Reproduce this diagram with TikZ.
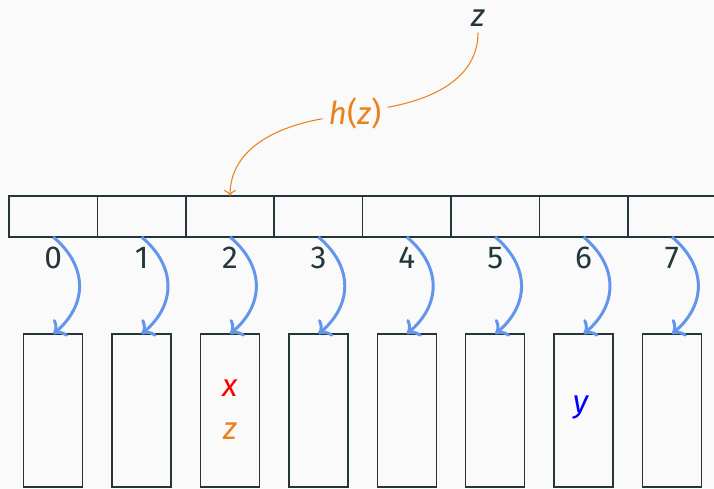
\documentclass[tikz,border=0pt]{standalone}
\usepackage{fontspec}
\setmainfont{Fira Sans}
\usepackage{xcolor}
\usetikzlibrary{
  arrows.meta,
  positioning
}
\definecolor{mDark}{HTML}{23373B}
\definecolor{mOrange}{HTML}{EB811B}
\definecolor{mChain}{HTML}{6495ED}
\definecolor{mBack}{HTML}{FAFAFA}
\tikzset{
  line cap=round,
  line join=round,
  every node/.append style={font=\fontsize{18}{22}\selectfont, text=mDark},
  cell/.style={draw=mDark, line width=0.8pt, minimum width=1.768cm, minimum height=0.82cm, inner sep=0pt, outer sep=0pt},
  bucket/.style={draw=mDark, line width=0.8pt, minimum width=1.18cm, minimum height=3.06cm, inner sep=0pt, outer sep=0pt},
  chainarrow/.style={-{To[length=2.2mm,width=4.4mm]}, draw=mChain, line width=1.7pt, bend left=50, looseness=1.2},
  hasharrow/.style={draw=mOrange, line width=0.6pt}
}

\begin{document}
\begin{tikzpicture}
    % background and frame size
    \fill[mBack] (0,0) rectangle (14.28,9.78);
    \useasboundingbox (0,0) rectangle (14.28,9.78);

    % table, indices and buckets
    \foreach \i in {0,...,7} {
        \node[cell] (c\i) at ({1.064+1.768*\i},5.45) {};
        \node (n\i) at ({1.064+1.768*\i},4.62) {\i};
        \node[bucket] (b\i) at ({1.064+1.768*\i},1.57) {};
        \draw[chainarrow] (c\i.south) to (b\i.north);
    }

    % bucket contents
    \node[text=red] (x) at (4.60,2.02) {\textit{x}};
    \node[text=mOrange] (zin) at (4.60,1.16) {\textit{z}};
    \node[text=blue] (y) at (11.62,1.62) {\textit{y}};

    % hashing of z
    \node (z) at (9.56,9.42) {\textit{z}};
    \node[text=mOrange] (hz) at (7.10,7.52) {\textit{h}(\textit{z})};
    \draw[hasharrow] (z) to[out=-90,in=10] (hz);
    \draw[hasharrow, -{To[length=1.2mm,width=2.4mm]}] (hz) to[out=190,in=90] (c2.north);
\end{tikzpicture}
\end{document}
